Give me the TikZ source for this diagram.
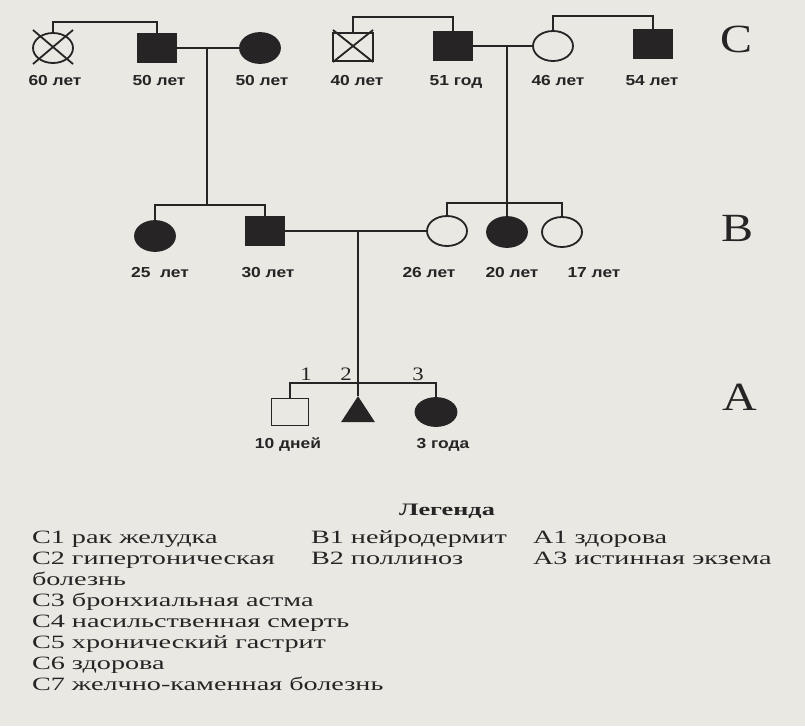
\documentclass[tikz,border=0pt]{standalone}
\usepackage{fontspec}
\setmainfont{Liberation Serif}
\newfontfamily\agefont[FakeStretch=1.2]{Liberation Sans}
\newfontfamily\legfont[FakeStretch=1.5]{Liberation Serif}
\newfontfamily\genfont[FakeStretch=1.2]{Liberation Serif}
\usetikzlibrary{shapes,% ellipses and triangles
calc}
\definecolor{ink}{RGB}{38,36,36}
\definecolor{paper}{RGB}{234,232,227}
\tikzset{every node/.style={inner sep=0pt, outer sep=0pt, text=ink},
  link/.style={draw=ink, line width=1.8pt},
  sq/.style={rectangle, draw=ink, line width=1.8pt, minimum width=39pt, minimum height=28pt},
  ov/.style={ellipse, draw=ink, line width=1.8pt, minimum width=40pt, minimum height=30pt},
  aff/.style={fill=ink},
  hlth/.style={fill=paper},
  age/.style={anchor=base, font=\agefont\bfseries\fontsize{14.5}{16}\selectfont},
  num/.style={anchor=base, font=\genfont\fontsize{19}{19}\selectfont},
  gen/.style={font=\genfont\fontsize{40}{40}\selectfont},
  leg/.style={anchor=base west, font=\legfont\fontsize{18.8}{20}\selectfont}}
\newcommand{\crossmark}[1]
{\draw[link] ($(#1.west |- #1.north)+(0,-3)$) -- ($(#1.east |- #1.south)+(0,1)$)
   ($(#1.west |- #1.south)+(0,1)$) -- ($(#1.east |- #1.north)+(0,-3)$);}

\begin{document}
\begin{tikzpicture}[x=1pt,y=-1pt]
  \fill[paper] (0,0) rectangle (805,726);
  \useasboundingbox (0,0) rectangle (805,726);
  % generation C
  \node[ov,hlth] (c60) at (53,48) {};
  \node[sq,aff] (c50m) at (157,48) {};
  \node[ov,aff] (c50f) at (260,48) {};
  \node[sq,hlth,minimum width=40pt,minimum height=28pt] (c40) at (353,47) {};
  \node[sq,aff] (c51) at (453,46) {};
  \node[ov,hlth] (c46) at (553,46) {};
  \node[sq,aff] (c54) at (653,44) {};
  \crossmark{c60}
  \crossmark{c40}
  \coordinate (t1) at (157,22);
  \coordinate (t2) at (453,17);
  \coordinate (t3) at (653,16);
  \draw[link] (c60.north) |- (t1) -- (c50m.north);
  \draw[link] (c40.north) |- (t2) -- (c51.north);
  \draw[link] (c46.north) |- (t3) -- (c54.north);
  \draw[link] (c50m) -- (c50f);
  \draw[link] (c51) -- (c46);
  % generation B
  \node[ov,aff] (b25) at (155,236) {};
  \node[sq,aff] (b30) at (265,231) {};
  \node[ov,hlth] (b26) at (447,231) {};
  \node[ov,aff] (b20) at (507,232) {};
  \node[ov,hlth] (b17) at (562,232) {};
  \coordinate (m1) at (207,48);
  \coordinate (s1) at (207,205);
  \coordinate (m2) at (507,46);
  \coordinate (s2) at (507,203);
  \draw[link] (m1) -- (s1);
  \draw[link] (b25.north) |- (s1) -| (b30.north);
  \draw[link] (m2) -- (b20.north);
  \draw[link] (b26.north) |- (s2) -| (b17.north);
  \draw[link] (b30) -- (b26);
  % generation A
  \node[sq,hlth,minimum width=37pt,minimum height=27pt] (a1) at (290,412) {};
  \node[isosceles triangle, shape border rotate=90, isosceles triangle stretches,
    minimum width=34pt, minimum height=26pt, fill=ink] (a2) at (358,413) {};
  \node[ov,aff,minimum width=41pt,minimum height=28pt] (a3) at (436,412) {};
  \coordinate (m3) at (358,231);
  \coordinate (s3) at (358,383);
  \draw[link] (m3) -- (a2.apex);
  \draw[link] (a1.north) |- (s3) -| (a3.north);
  \node[num] (n1) at (306,380) {1};
  \node[num] (n2) at (346,380) {2};
  \node[num] (n3) at (418,380) {3};
  % ages
  \foreach \nm/\x/\y/\txt in {l60/55/85/60 лет, l50m/159/85/50 лет, l50f/262/85/50 лет,
    l40/357/85/40 лет, l51/456/85/51 год, l46/558/85/46 лет, l54/652/85/54 лет,
    l25/160/277/25~~лет, l30/268/277/30 лет, l26/429/277/26 лет, l20/512/277/20 лет,
    l17/594/277/17 лет, l10/288/448/10 дней, l3/443/448/3 года}
    \node[age] (\nm) at (\x,\y) {\txt};
  \node[gen] (gC) at (736,39) {C};
  \node[gen] (gB) at (737,228) {B};
  \node[gen] (gA) at (740,397) {A};
  % legend
  \node[anchor=base, font=\legfont\bfseries\fontsize{17.5}{20}\selectfont] (lg) at (447,515) {Легенда};
  \foreach \txt [count=\i] in {C1 рак желудка, C2 гипертоническая, болезнь,
    C3 бронхиальная астма, C4 насильственная смерть, C5 хронический гастрит,
    C6 здорова, C7 желчно-каменная болезнь}
    \node[leg] (lc\i) at (32,{523+20.9*\i}) {\txt};
  \node[leg] (lb1) at (311,543.9) {B1 нейродермит};
  \node[leg] (lb2) at (311,564.8) {B2 поллиноз};
  \node[leg] (la1) at (533,543.9) {A1 здорова};
  \node[leg] (la3) at (533,564.8) {A3 истинная экзема};
\end{tikzpicture}
\end{document}
